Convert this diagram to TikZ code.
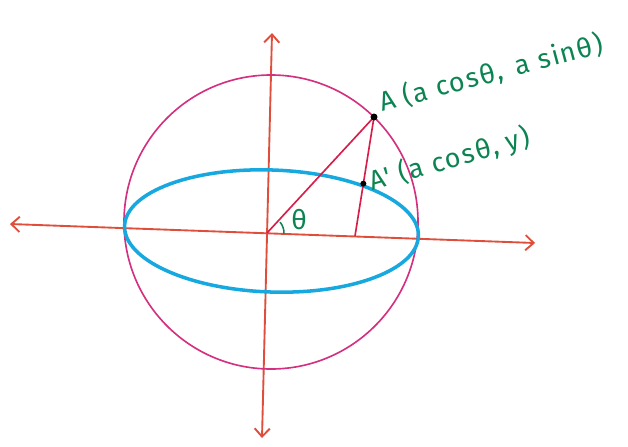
\documentclass[tikz,border=0pt]{standalone}
\usepackage{fontspec}
\setmainfont{Fira Sans}
\newfontfamily\handfont[LetterSpace=6]{Fira Sans}
\usetikzlibrary{calc,arrows.meta}

\definecolor{axisred}{RGB}{222,78,58}
\definecolor{circpink}{RGB}{212,48,128}
\definecolor{ellcyan}{RGB}{22,168,222}
\definecolor{rayred}{RGB}{214,30,72}
\definecolor{inkgreen}{RGB}{12,132,82}

\tikzset{
  axis/.style={axisred, line width=1.6pt, {Straight Barb[length=7pt,width=13pt,line width=1.6pt]}-{Straight Barb[length=7pt,width=13pt,line width=1.6pt]}},
  circ/.style={circpink, line width=1.4pt},
  ell/.style={ellcyan, line width=3pt},
  ray/.style={rayred, line width=1.4pt},
  lbl/.style={inkgreen, font=\handfont\fontsize{23}{26}\selectfont, inner sep=0pt},
}

\begin{document}
\begin{tikzpicture}[x=0.03cm, y=-0.03cm]
				\useasboundingbox (0,0) rectangle (628,446);
				\coordinate (L) at (10,224);
				\coordinate (R) at (535,243);
				\coordinate (T) at (272,33);
				\coordinate (Bt) at (262,438);
				\coordinate (O) at (267,233);
				\coordinate (C) at (271,222);
				\coordinate (E) at (271.5,231);
				\coordinate (A) at (374,117);
				\coordinate (D) at (355,236);
				\coordinate (A1) at ($(A)!0.56!(D)$);
				% axes
				\draw[axis] (L)--(R);
				\draw[axis] (T)--(Bt);
				% auxiliary circle and ellipse
				\draw[circ] (C) circle (147);
				\draw[ell, rotate around={-2:(E)}] (E) ellipse [x radius=147, y radius=61];
				% radius and ordinate
				\draw[ray] (O)--(A);
				\draw[ray] (A)--(D);
				\draw[inkgreen, line width=1.3pt] ($(O)+(-40:17)$) arc[start angle=-40, end angle=3, radius=17];
				\fill (A) circle (3.5);
				\fill (A1) circle (3);
				\node[lbl] (th) at (299,220) {θ};
				\node[lbl, rotate=15, anchor=base west] (lblA) at (382,112) {A (a cosθ,\hspace{0.5em}a sinθ)};
				\node[lbl, rotate=16, anchor=base west] (lblA1) at (372,191) {A' (a cosθ, y)};
			\end{tikzpicture}
\end{document}
